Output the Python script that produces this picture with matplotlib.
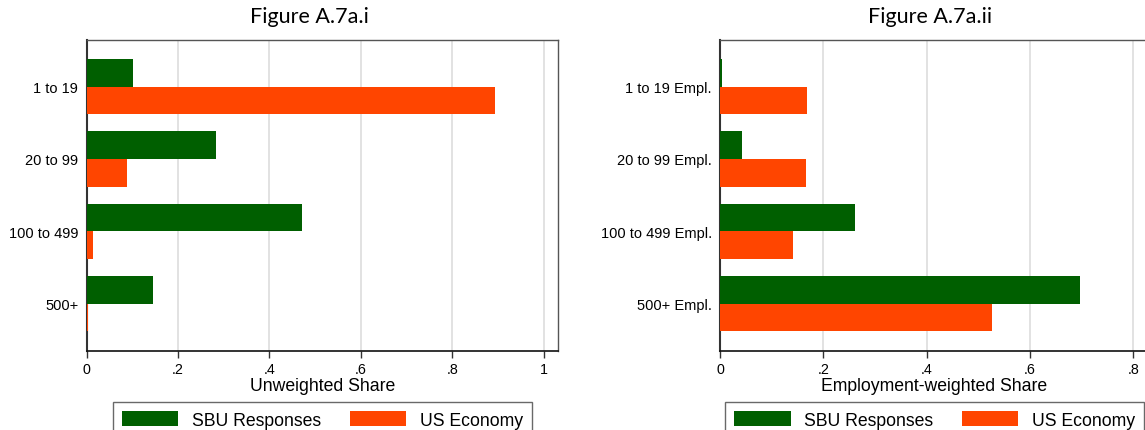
import matplotlib
matplotlib.use("Agg")
import matplotlib.pyplot as plt
import numpy as np

categories_left = ["1 to 19", "20 to 99", "100 to 499", "500+"]
categories_right = ["1 to 19 Empl.", "20 to 99 Empl.", "100 to 499 Empl.", "500+ Empl."]
sbu_unweighted = [0.101, 0.283, 0.472, 0.145]
us_unweighted = [0.893, 0.088, 0.013, 0.002]
sbu_weighted = [0.003, 0.043, 0.261, 0.696]
us_weighted = [0.168, 0.166, 0.141, 0.526]
left_ticks = [0, 0.2, 0.4, 0.6, 0.8, 1.0]
left_ticklabels = ["0", ".2", ".4", ".6", ".8", "1"]
right_ticks = [0, 0.2, 0.4, 0.6, 0.8]
right_ticklabels = ["0", ".2", ".4", ".6", ".8"]
series_names = ["SBU Responses", "US Economy"]

plt.rcParams['font.family'] = ['Liberation Sans', 'DejaVu Sans']

W, H = 1145, 431
fig = plt.figure(figsize=(W / 100, H / 100), dpi=100)

GREEN = '#005f00'
ORANGE = '#ff4500'

def px_axes(left, right, top, bottom):
    return [left / W, 1 - bottom / H, (right - left) / W, (bottom - top) / H]

def draw(ax, cats, sbu, us, ticks, ticklabels, xmax, xlabel, title, title_x, legend_x):
    y = np.arange(len(cats))
    bh = 0.381
    ax.barh(y - bh / 2, sbu, height=bh, color=GREEN, zorder=3, label=series_names[0])
    ax.barh(y + bh / 2, us, height=bh, color=ORANGE, zorder=3, label=series_names[1])
    ax.set_ylim(len(cats) - 1 + 0.646, -0.646)
    ax.set_xlim(0, xmax)
    ax.set_yticks(y)
    ax.set_yticklabels(cats, fontsize=10.5)
    ax.tick_params(axis='y', length=0, pad=6)
    ax.set_xticks(ticks)
    ax.set_xticklabels(ticklabels, fontsize=10.3)
    ax.tick_params(axis='x', length=5, width=1, color='#333333', pad=3)
    ax.grid(axis='x', color='#dddddd', linewidth=1.2, zorder=0)
    ax.set_axisbelow(True)
    for s in ['top', 'right']:
        ax.spines[s].set_color('#555555')
        ax.spines[s].set_linewidth(1.0)
    ax.spines['left'].set_color('#333333')
    ax.spines['left'].set_linewidth(1.5)
    ax.spines['bottom'].set_color('#111111')
    ax.spines['bottom'].set_linewidth(1.2)
    ax.set_xlabel(xlabel, fontsize=12.7, labelpad=1)
    fig.text(title_x / W, 1 - 17 / H, title, ha='center', va='center',
             fontsize=15.5, family=['Lato', 'DejaVu Sans'])
    leg = ax.legend(loc='upper center', bbox_to_anchor=(legend_x / W, 1 - 403.3 / H),
                    bbox_transform=fig.transFigure, ncol=2, fontsize=12.7,
                    frameon=True, fancybox=False, borderaxespad=0,
                    handlelength=3.2, handleheight=0.9, handletextpad=0.75,
                    columnspacing=1.65, borderpad=0.5)
    leg.get_frame().set_edgecolor('#444444')
    leg.get_frame().set_linewidth(1.0)

axL = fig.add_axes(px_axes(86.7, 558.3, 40.7, 351.7))
draw(axL, categories_left, sbu_unweighted, us_unweighted, left_ticks, left_ticklabels,
     1.032, "Unweighted Share", "Figure A.7a.i", 309, 322.4)

axR = fig.add_axes(px_axes(720, 1149, 40.7, 351.7))
draw(axR, categories_right, sbu_weighted, us_weighted, right_ticks, right_ticklabels,
     0.83, "Employment-weighted Share", "Figure A.7a.ii", 930, 934.5)

fig.savefig("out.png", dpi=100)
